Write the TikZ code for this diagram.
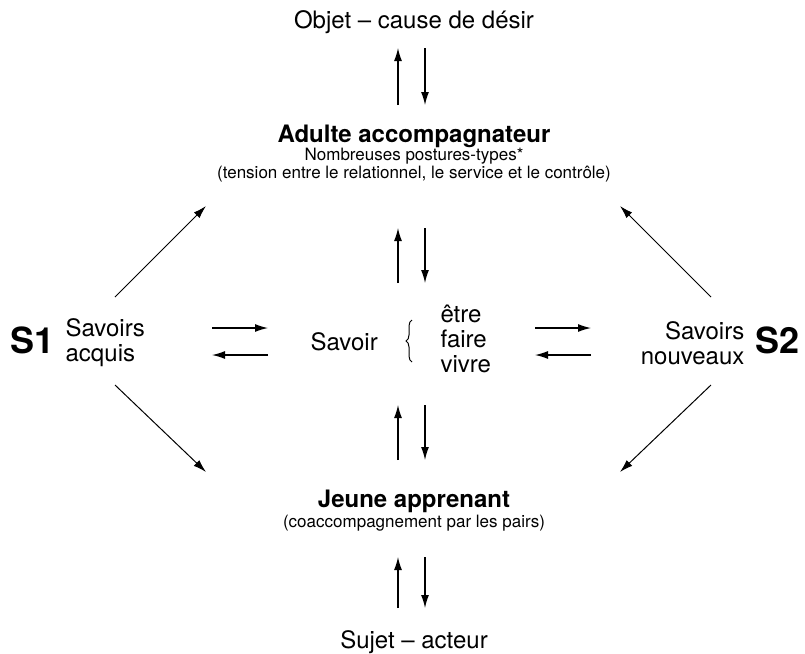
\documentclass[tikz,border=0pt]{standalone}
\usepackage{fontspec}
\setmainfont{TeX Gyre Heros}
\usepackage{tikz}
\usetikzlibrary{arrows.meta, decorations.pathreplacing}

\begin{document}
\begin{tikzpicture}[x=0.5pt, y=-0.5pt, line width=0.6pt,
    arr/.style={-{Latex[length=6.5pt, width=4pt]}},
    txt/.style={font=\fontsize{12}{12.5}\selectfont, inner sep=0pt},
    boldtxt/.style={font=\fontsize{12}{12.5}\selectfont\bfseries, inner sep=0pt},
    smalltxt/.style={font=\fontsize{8.5}{9}\selectfont, inner sep=0pt},
    bigtxt/.style={font=\fontsize{18}{18}\selectfont\bfseries, inner sep=0pt}]
    \useasboundingbox (0,0) rectangle (805,654);

    % Top and bottom texts
    \node[txt, anchor=base] (objet) at (414,28) {Objet – cause de désir};
    \node[boldtxt, anchor=base] (adulte) at (414,142) {Adulte accompagnateur};
    \node[smalltxt, anchor=base] (postures) at (414,160) {Nombreuses postures-types*};
    \node[smalltxt, anchor=base] (tension) at (414,178) {(tension entre le relationnel, le service et le contrôle)};
    \node[boldtxt, anchor=base] (jeune) at (414,507) {Jeune apprenant};
    \node[smalltxt, anchor=base] (pairs) at (414,527) {(coaccompagnement par les pairs)};
    \node[txt, anchor=base] (sujet) at (414,648) {Sujet – acteur};

    % Middle row
    \node[bigtxt, anchor=base west] (s1) at (10,353) {S1};
    \node[txt, anchor=west, align=left] (acquis) at (65,343) {Savoirs\\acquis};
    \node[bigtxt, anchor=base east] (s2) at (800,353) {S2};
    \node[txt, anchor=east, align=right] (nouveaux) at (745,343) {Savoirs\\nouveaux};
    \node[txt, anchor=base west] (savoir) at (310,350) {Savoir};
    \node[txt, anchor=west, align=left] (formes) at (440,339) {être\\faire\\vivre};
    \draw[line width=0.5pt, decorate, decoration={brace, amplitude=3pt}]
        (412,362) -- (412,320);

    % Vertical pairs of arrows
    \foreach \ya/\yb [count=\i] in {48/105, 228/283, 405/460, 557/608} {
        \coordinate (a\i) at (398,\yb);
        \coordinate (b\i) at (398,\ya);
        \coordinate (c\i) at (425,\ya);
        \coordinate (d\i) at (425,\yb);
        \draw[arr] (a\i) -- (b\i);
        \draw[arr] (c\i) -- (d\i);
    }

    % Horizontal pairs of arrows
    \coordinate (l1) at (212,328);
    \coordinate (l2) at (268,328);
    \coordinate (l3) at (212,355);
    \coordinate (l4) at (268,355);
    \coordinate (r1) at (535,328);
    \coordinate (r2) at (591,328);
    \coordinate (r3) at (535,355);
    \coordinate (r4) at (591,355);
    \draw[arr] (l1) -- (l2);
    \draw[arr] (l4) -- (l3);
    \draw[arr] (r1) -- (r2);
    \draw[arr] (r4) -- (r3);

    % Diagonal arrows
    \coordinate (ul1) at (115,297);
    \coordinate (ul2) at (206,206);
    \coordinate (ur1) at (711,297);
    \coordinate (ur2) at (620,206);
    \coordinate (ll1) at (115,385);
    \coordinate (ll2) at (206,472);
    \coordinate (lr1) at (711,385);
    \coordinate (lr2) at (620,472);
    \draw[arr, line width=0.5pt] (ul1) -- (ul2);
    \draw[arr, line width=0.5pt] (ur1) -- (ur2);
    \draw[arr, line width=0.5pt] (ll1) -- (ll2);
    \draw[arr, line width=0.5pt] (lr1) -- (lr2);
\end{tikzpicture}
\end{document}
